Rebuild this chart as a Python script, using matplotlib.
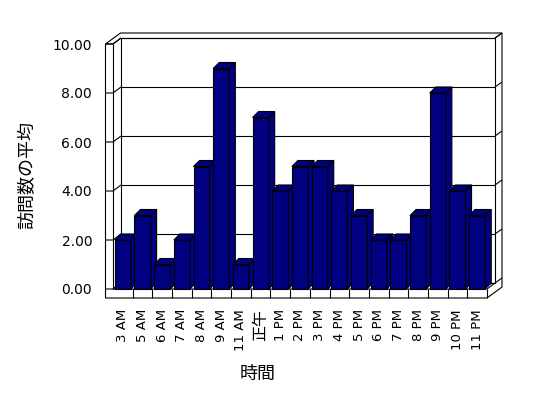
#!/usr/bin/env python3
"""
Gráfico de barras pseudo-3D (estilo Excel): média de visitas por hora.
"""

import matplotlib
matplotlib.use('Agg')
import matplotlib.pyplot as plt
from matplotlib.patches import Polygon

plt.rcParams['font.family'] = ['DejaVu Sans', 'Noto Sans CJK JP']

# ── Dados ────────────────────────────────────────────────────────────────────
HORAS = ['3 AM', '5 AM', '6 AM', '7 AM', '8 AM', '9 AM', '11 AM', '正午',
         '1 PM', '2 PM', '3 PM', '4 PM', '5 PM', '6 PM', '7 PM', '8 PM',
         '9 PM', '10 PM', '11 PM']
VISITAS = [2, 3, 1, 2, 5, 9, 1, 7, 4, 5, 5, 4, 3, 2, 2, 3, 8, 4, 3]
YTICKS = [0, 2, 4, 6, 8, 10]

NAVY = '#000080'
W, H = 548, 398
PX_CAT = 374 / len(HORAS)      # pixels por categoria
PX_VAL = 245 / 10              # pixels por unidade

# profundidade (convertida de pixels para unidades de dados)
WDX, WDY = 8 / PX_CAT, 6 / PX_VAL        # parede de fundo (face interna)
ODX, ODY = 15 / PX_CAT, 11 / PX_VAL      # parede de fundo (face externa)
BDX, BDY = 6 / PX_CAT, 6 / PX_VAL        # profundidade das barras
TL = 7.5 / PX_CAT                        # espessura parede esquerda
TF = 9 / PX_VAL                          # espessura do piso
BW = 0.82                                # largura da barra

fig = plt.figure(figsize=(W / 100, H / 100), dpi=100)
ax = fig.add_axes([113 / W, 109 / H, 374 / W, 245 / H])
n = len(HORAS)
x0, x1 = -0.5, n - 0.5
ax.set_xlim(x0, x1)
ax.set_ylim(0, 10)
for s in ax.spines.values():
    s.set_visible(False)

LW = 0.8


def linha(xs, ys, z=2):
    ax.plot(xs, ys, color='black', lw=LW, clip_on=False, zorder=z,
            solid_capstyle='butt')


# silhueta branca
ax.add_patch(Polygon([(x0 - TL, -TF), (x0 - TL, 10), (x0 - TL + ODX, 10 + ODY),
                      (x1 + ODX, 10 + ODY), (x1 + ODX, -TF + ODY), (x1, -TF)],
                     closed=True, facecolor='white', edgecolor='black',
                     lw=LW, clip_on=False, zorder=1))

# parede de fundo (face interna)
ax.add_patch(Polygon([(x0 + WDX, WDY), (x1 + WDX, WDY), (x1 + WDX, 10 + WDY),
                      (x0 + WDX, 10 + WDY)], closed=True, facecolor='white',
                     edgecolor='black', lw=LW, clip_on=False, zorder=2))

# arestas da parede esquerda e do piso
linha([x0 - TL, x0, x0 + WDX], [10, 10, 10 + WDY])
linha([x0, x0], [0, 10])
linha([x0, x0 + WDX], [0, WDY])
linha([x1 + WDX, x1 + ODX], [10 + WDY, 10 + ODY])
linha([x0, x1, x1 + WDX], [0, 0, WDY])
linha([x1, x1], [0, -TF])

# grade
for v in YTICKS:
    linha([x0 + WDX, x1 + WDX], [v + WDY, v + WDY])
    linha([x0 - TL, x0, x0 + WDX], [v, v, v + WDY])
    linha([x1 + WDX, x1 + ODX], [v + WDY, v + ODY])

# divisões das categorias na face frontal do piso
for i in range(n - 1):
    linha([i + 0.5, i + 0.5], [0, -TF])

# barras (esquerda -> direita, as seguintes cobrem a lateral das anteriores)
for i, h in enumerate(VISITAS):
    xa, xb = i - BW / 2, i + BW / 2
    z = 10 + i
    faces = [
        [(xa, 0), (xb, 0), (xb, h), (xa, h)],
        [(xa, h), (xb, h), (xb + BDX, h + BDY), (xa + BDX, h + BDY)],
        [(xb, 0), (xb + BDX, BDY), (xb + BDX, h + BDY), (xb, h)],
    ]
    for f in faces:
        ax.add_patch(Polygon(f, closed=True, facecolor=NAVY, edgecolor='black',
                             lw=LW, joinstyle='miter', clip_on=False, zorder=z))

# eixos e rótulos
ax.set_yticks(YTICKS)
ax.set_yticklabels([f'{v:.2f}' for v in YTICKS])
ax.tick_params(axis='y', length=0, pad=15, labelsize=10)
ax.set_xticks(range(n))
ax.set_xticklabels(HORAS, rotation=90, va='top', ha='center')
ax.tick_params(axis='x', length=0, pad=14.5, labelsize=9.5)
for t in ax.get_xticklabels():
    if t.get_text() == '正午':
        t.set_fontsize(11.5)

ax.set_ylabel('訪問数の平均', fontsize=13, va='center')
ax.yaxis.set_label_coords(-0.23, 0.465)
ax.set_xlabel('時間', fontsize=13, va='center')
ax.xaxis.set_label_coords(0.388, -0.347)

fig.savefig('out.png', dpi=100, facecolor='white')
plt.close(fig)
